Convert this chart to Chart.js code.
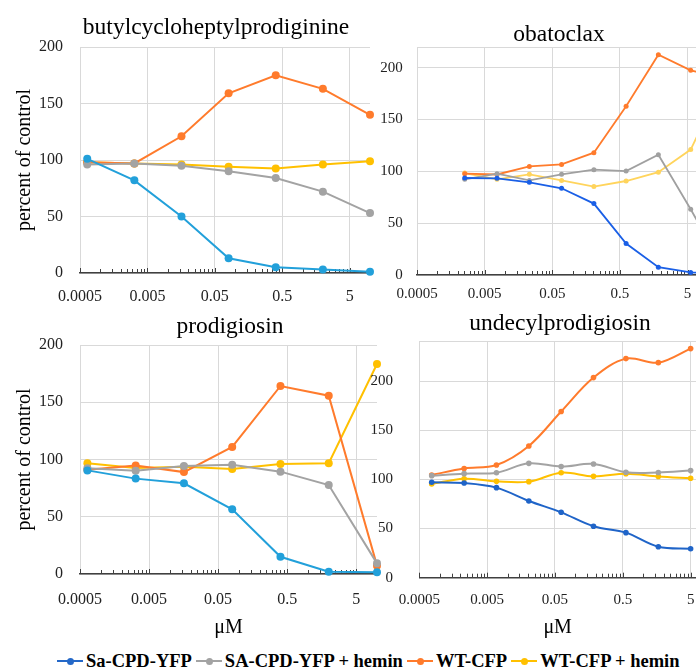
<!DOCTYPE html>
<html>
<head>
<meta charset="utf-8">
<script src="https://cdn.jsdelivr.net/npm/chart.js@4.4.1/dist/chart.umd.min.js"></script>
<style>
  body { margin: 0; width: 696px; height: 669px; overflow: hidden; background: #fff; position: relative; }
  .panel { position: absolute; }
  .panel canvas { display: block; }
  #legend { position: absolute; left: 57px; top: 651px; height: 20px; display: flex; align-items: center;
            font: bold 18.5px 'Liberation Serif', serif; color: #000; white-space: nowrap; }
  .item { display: flex; align-items: center; margin-right: 4px; }
  .mark { position: relative; width: 26px; height: 2px; margin-right: 3px; }
  .mark i { position: absolute; left: 10px; top: -2.5px; width: 7px; height: 7px; border-radius: 50%; }
</style>
</head>
<body>
<div class="panel" style="left:0;top:0"><canvas id="tl" width="432" height="318"></canvas></div>
<div class="panel" style="left:0;top:300px"><canvas id="bl" width="460" height="344"></canvas></div>
<div class="panel" style="left:376px;top:0"><canvas id="tr" width="366" height="318"></canvas></div>
<div class="panel" style="left:360px;top:300px"><canvas id="br" width="400" height="344"></canvas></div>
<div id="legend"></div>

<script>
// data ======================================================================
const seriesNames = ['Sa-CPD-YFP', 'SA-CPD-YFP + hemin', 'WT-CFP', 'WT-CFP + hemin'];
const xTicks = [0.0005, 0.005, 0.05, 0.5, 5];
const yTicks200 = [0, 50, 100, 150, 200];
const yTicksObatoclax = [0, 50, 100, 150, 200, 220];
const yTicksUndecyl = [0, 50, 100, 150, 200, 240];

// butylcycloheptylprodiginine, 5-fold dilutions (uM)
const bcpConc = [0.00064, 0.0032, 0.016, 0.08, 0.4, 2, 10];
const bcpSa = [101, 82, 50, 13, 5, 3, 1.2];
const bcpSaHemin = [96, 97, 95, 90, 84, 72, 53];
const bcpWt = [98, 97, 121, 159, 175, 163, 140];
const bcpWtHemin = [98, 97, 96, 94, 92.5, 96, 99];

// obatoclax, 3-fold dilutions (uM)
const obaConc = [0.00254, 0.00762, 0.0229, 0.0686, 0.206, 0.617, 1.85, 5.56, 16.7];
const obaSa = [93.6, 93.3, 89.4, 83.7, 68.9, 30.4, 7.5, 2.5, 1];
const obaSaHemin = [92.3, 97.8, 91.3, 97.1, 101.6, 100.3, 116, 63.5, 8];
const obaWt = [97.8, 97, 104.8, 106.7, 118, 162.8, 212.5, 197.5, 190];
const obaWtHemin = [98.4, 92.3, 97.1, 91.3, 85.3, 90.7, 99.2, 121, 186];

// prodigiosin, 5-fold dilutions (uM)
const prodConc = [0.00064, 0.0032, 0.016, 0.08, 0.4, 2, 10];
const prodSa = [90.5, 83.3, 79.2, 56.5, 15, 2, 1.5];
const prodSaHemin = [92.3, 90.2, 94.3, 95.5, 89.4, 77.7, 9.3];
const prodWt = [91, 94.7, 89, 111, 164.2, 155.7, 7.3];
const prodWtHemin = [96.7, 92.6, 93.7, 91.7, 96, 96.7, 183.4];

// undecylprodigiosin, 3-fold dilutions (uM)
const undConc = [0.000762, 0.00229, 0.00686, 0.0206, 0.0617, 0.185, 0.556, 1.67, 5];
const undSa = [97, 96.3, 91.6, 78, 66.5, 52.3, 45.8, 31.5, 29.5];
const undSaHemin = [103.8, 105.8, 106.8, 116.3, 113, 115.7, 107.2, 107, 108.9];
const undWt = [104.5, 111, 114.6, 134, 169, 203.5, 222.8, 218.7, 233];
const undWtHemin = [95.3, 100.7, 98, 97.7, 106.8, 103.1, 105.8, 103, 101.1];

// styles ====================================================================
const serif = "'Liberation Serif', serif";
const gridColor = '#D9D9D9';
const axisColor = '#404040';
const leftColors = ['#22A0DA', '#A3A3A3', '#FF7B2C', '#FFC000'];
const obaColors = ['#1A5FE6', '#A0A0A0', '#FF7B2C', '#FFD45C'];
const undColors = ['#1F64C8', '#A3A3A3', '#FF7B2C', '#FFC000'];
const legendColors = ['#2468C8', '#A3A3A3', '#FF7B2C', '#FFC000'];

// short log tick marks standing up from the x axis
const minorTicks = {
    id: 'minorTicks',
    beforeDatasetsDraw(chart) {
        const xs = chart.scales.x;
        const ctx = chart.ctx;
        const y0 = chart.chartArea.bottom;
        ctx.save();
        ctx.strokeStyle = axisColor;
        ctx.lineWidth = 1;
        ctx.beginPath();
        xTicks.forEach(d => {
            for (let k = 1; k <= 9; k++) {
                const v = d * k;
                if (v > xs.max) break;
                const px = Math.round(xs.getPixelForValue(v)) + 0.5;
                ctx.moveTo(px, y0);
                ctx.lineTo(px, y0 - (k === 1 ? 5 : 4));
            }
        });
        ctx.stroke();
        ctx.restore();
    }
};

function panel(id, cfg) {
    return new Chart(document.getElementById(id), {
        type: 'line',
        data: {
            datasets: cfg.series.map((vals, i) => ({
                label: seriesNames[i],
                data: cfg.conc.map((c, j) => ({x: c, y: vals[j]})),
                xAxisID: 'x',
                yAxisID: 'y',
                borderColor: cfg.colors[i],
                backgroundColor: cfg.colors[i],
                borderWidth: cfg.lineWidth,
                pointRadius: cfg.pointRadius,
                pointBorderWidth: 0,
                tension: cfg.tension,
                clip: false
            }))
        },
        options: {
            responsive: false,
            animation: false,
            devicePixelRatio: 1,
            layout: {padding: 0},
            plugins: {
                legend: {display: false},
                tooltip: {enabled: false},
                title: {
                    display: true,
                    text: cfg.title,
                    color: '#000',
                    font: {family: serif, size: 23.5, weight: 'normal', lineHeight: 1},
                    padding: cfg.titlePad
                }
            },
            scales: {
                x: {
                    type: 'logarithmic',
                    min: 0.0005,
                    max: cfg.xMax,
                    afterBuildTicks: s => { s.ticks = xTicks.map(v => ({value: v})); },
                    afterFit: s => { s.height = cfg.xHeight; },
                    grid: {color: gridColor, drawTicks: false},
                    border: {color: axisColor, width: 1.4},
                    ticks: {
                        autoSkip: false, maxRotation: 0, padding: cfg.xPad, color: '#222',
                        font: {family: serif, size: cfg.tickSize},
                        callback: v => String(v)
                    },
                    title: {
                        display: !!cfg.xTitle, text: 'μM', color: '#000',
                        font: {family: serif, size: 20}, padding: {top: 0, bottom: 4}
                    }
                },
                y: {
                    min: 0,
                    max: cfg.yMax,
                    afterBuildTicks: s => { s.ticks = cfg.yTicks.map(v => ({value: v})); },
                    afterFit: s => { s.width = cfg.yWidth; },
                    grid: {color: gridColor, drawTicks: false},
                    border: {display: false},
                    ticks: {
                        padding: cfg.yPad, color: '#222',
                        font: {family: serif, size: cfg.tickSize},
                        callback: v => (v % 50 === 0 ? v : '')
                    },
                    title: {
                        display: !!cfg.yTitle, text: 'percent of control', color: '#000',
                        font: {family: serif, size: 20}, padding: {top: 12.3, bottom: 0}
                    }
                },
                // empty box on the right so the plot stops where the next panel begins
                pad: {
                    type: 'linear',
                    position: 'right',
                    grid: {display: false},
                    border: {display: false},
                    ticks: {display: false},
                    afterFit: s => { s.width = cfg.padRight; }
                }
            }
        },
        plugins: [minorTicks]
    });
}

panel('tl', {
    title: 'butylcycloheptylprodiginine',
    conc: bcpConc, series: [bcpSa, bcpSaHemin, bcpWt, bcpWtHemin], colors: leftColors,
    lineWidth: 2, pointRadius: 4, tension: 0,
    xMax: 10, yMax: 200, yTicks: yTicks200,
    titlePad: {top: 16.35, bottom: 7.15}, xHeight: 45, xPad: 14.4, yWidth: 80, yPad: 17, padRight: 62,
    tickSize: 16, yTitle: true
});

panel('bl', {
    title: 'prodigiosin',
    conc: prodConc, series: [prodSa, prodSaHemin, prodWt, prodWtHemin], colors: leftColors,
    lineWidth: 2, pointRadius: 4, tension: 0,
    xMax: 10, yMax: 200, yTicks: yTicks200,
    titlePad: {top: 15.35, bottom: 6.15}, xHeight: 70, xPad: 16.4, yWidth: 80, yPad: 17, padRight: 83,
    tickSize: 16, yTitle: true, xTitle: true
});

panel('tr', {
    title: 'obatoclax',
    conc: obaConc, series: [obaSa, obaSaHemin, obaWt, obaWtHemin], colors: obaColors,
    lineWidth: 1.8, pointRadius: 2.5, tension: 0,
    xMax: 16.7, yMax: 220, yTicks: yTicksObatoclax,
    titlePad: {top: 23.35, bottom: 0.15}, xHeight: 43, xPad: 10.4, yWidth: 41, yPad: 14.3, padRight: 19,
    tickSize: 15
});

panel('br', {
    title: 'undecylprodigiosin',
    conc: undConc, series: [undSa, undSaHemin, undWt, undWtHemin], colors: undColors,
    lineWidth: 2, pointRadius: 2.8, tension: 0.35,
    xMax: 6, yMax: 240, yTicks: yTicksUndecyl,
    titlePad: {top: 12.35, bottom: 5.85}, xHeight: 66.3, xPad: 13.7, yWidth: 59.3, yPad: 26.3, padRight: 64,
    tickSize: 15, xTitle: true
});

// shared legend ==============================================================
const $legend = document.getElementById('legend');
seriesNames.forEach((name, i) => {
    $legend.insertAdjacentHTML('beforeend',
        `<span class="item"><span class="mark" style="background:${legendColors[i]}"><i style="background:${legendColors[i]}"></i></span>${name}</span>`);
});
</script>
</body>
</html>
